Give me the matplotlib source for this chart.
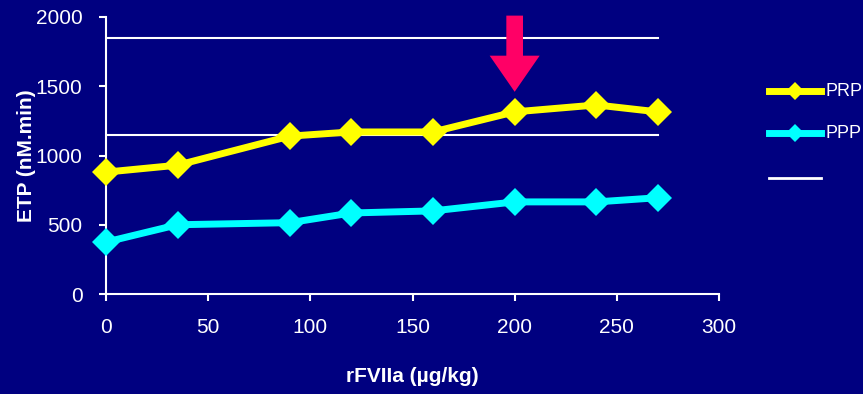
import matplotlib
matplotlib.use("Agg")
import matplotlib.pyplot as plt
from matplotlib.lines import Line2D

plt.rcParams['font.family'] = ['Liberation Sans', 'DejaVu Sans']

# rFVIIa dose (µg/kg) and ETP (nM.min)
doses = [0, 35, 90, 120, 160, 200, 240, 270]
prp = [880, 930, 1140, 1170, 1170, 1315, 1365, 1315]
ppp = [375, 500, 515, 585, 600, 665, 665, 695]
ref_range = [1150, 1850]
ref_span = [0, 270]
arrow_dose = 200
x_ticks = [0, 50, 100, 150, 200, 250, 300]
y_ticks = [0, 500, 1000, 1500, 2000]
legend_labels = ['PRP', 'PPP', '']
legend_colors = ['#FFFF00', '#00FFFF', 'white']

navy = '#000080'
W, H = 863, 394
fig = plt.figure(figsize=(W / 100, H / 100), dpi=100, facecolor=navy)
ax = fig.add_axes([106 / W, 1 - 294 / H, 613 / W, 277 / H])
ax.set_facecolor(navy)

for y in ref_range:
    ax.plot(ref_span, [y, y], color='white', lw=1.5, zorder=1)

ax.plot(doses, prp, color=legend_colors[0], lw=5, marker='D', markersize=14,
        markeredgewidth=0, zorder=3, clip_on=False)
ax.plot(doses, ppp, color=legend_colors[1], lw=5, marker='D', markersize=14,
        markeredgewidth=0, zorder=3, clip_on=False)

ax.annotate('', xy=(arrow_dose, 1460), xytext=(arrow_dose, 2010),
            arrowprops=dict(facecolor='#FF0066', edgecolor='none',
                            width=12, headwidth=36, headlength=26),
            annotation_clip=False, zorder=4)

ax.set_xlim(0, 300)
ax.set_ylim(0, 2000)
ax.set_xticks(x_ticks)
ax.set_yticks(y_ticks)
for s in ['top', 'right']:
    ax.spines[s].set_visible(False)
for s in ['left', 'bottom']:
    ax.spines[s].set_color('white')
    ax.spines[s].set_linewidth(1.5)
ax.tick_params(colors='white', labelsize=15, length=5, width=1.5, pad=12)

ax.set_xlabel('rFVIIa (µg/kg)', color='white', fontsize=15, fontweight='bold', labelpad=22)
ax.set_ylabel('ETP (nM.min)', color='white', fontsize=15, fontweight='bold', labelpad=0)

# Legend drawn in figure pixel coordinates
rows_y = [91, 133, 178]
x0, x1 = 769, 821
for lab, col, yp in zip(legend_labels, legend_colors, rows_y):
    yf = 1 - yp / H
    lw = 2 if col == 'white' else 5
    fig.add_artist(Line2D([x0 / W, x1 / W], [yf, yf], color=col, lw=lw,
                          transform=fig.transFigure))
    if col != 'white':
        fig.add_artist(Line2D([(x0 + x1) / 2 / W], [yf], color=col, marker='D',
                              markersize=9, markeredgewidth=0,
                              transform=fig.transFigure))
    if lab:
        fig.text(825 / W, yf, lab, color='white', fontsize=13, va='center', ha='left')

fig.savefig('out.png', dpi=100, facecolor=navy)
